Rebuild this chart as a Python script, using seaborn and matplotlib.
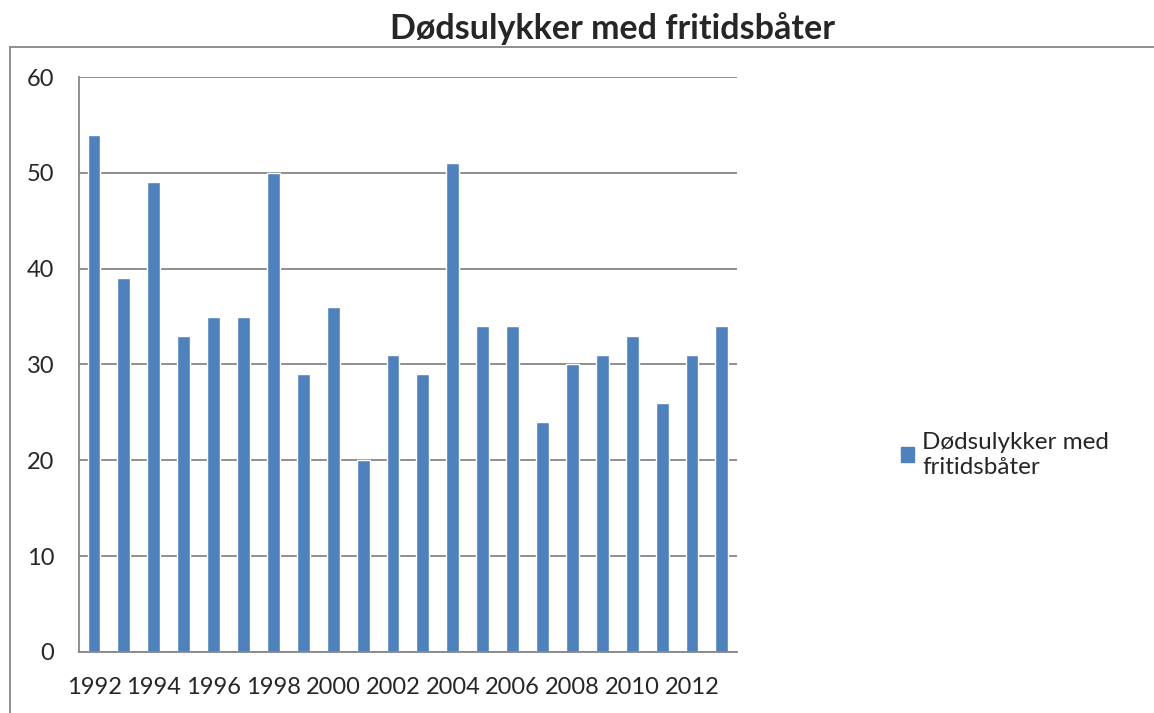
import matplotlib
matplotlib.use("Agg")
import matplotlib.pyplot as plt
from matplotlib.lines import Line2D
import seaborn as sns
import pandas as pd
import numpy as np

# Data
years = [1992, 1993, 1994, 1995, 1996, 1997, 1998, 1999, 2000, 2001, 2002,
         2003, 2004, 2005, 2006, 2007, 2008, 2009, 2010, 2011, 2012, 2013]
deaths = [54, 39, 49, 33, 35, 35, 50, 29, 36, 20, 31,
          29, 51, 34, 34, 24, 30, 31, 33, 26, 31, 34]
series_name = "Dødsulykker med fritidsbåter"

df = pd.DataFrame({"year": [str(y) for y in years], "value": deaths})

sns.set_style("white")
plt.rcParams['font.family'] = ['Lato', 'DejaVu Sans']

bar_color = "#4F81BD"
grid_color = "#868686"

fig = plt.figure(figsize=(11.54, 7.13), dpi=100)
ax = fig.add_axes([0.0685, 0.0856, 0.57, 0.8064])

sns.barplot(data=df, x="year", y="value", color=bar_color, width=0.43,
            saturation=1, ax=ax)

ax.set_xlim(-0.5, len(years) - 0.5)
ax.set_ylim(0, 60)
ax.set_yticks(range(0, 61, 10))
ax.yaxis.grid(True, color=grid_color, linewidth=1.3)
ax.set_axisbelow(True)

# tick labels every second year, tick marks at category boundaries
ax.set_xticks(range(0, len(years), 2))
ax.set_xticklabels([str(y) for y in years[::2]])
ax.set_xticks(np.arange(-0.5, len(years), 1), minor=True)
ax.tick_params(axis="x", which="major", length=0, pad=18, labelsize=17)
ax.tick_params(axis="x", which="minor", length=8, width=1.3, color=grid_color)
ax.tick_params(axis="y", length=8, width=1.3, color=grid_color, pad=10,
               labelsize=17)

for s in ["top", "right"]:
    ax.spines[s].set_visible(False)
for s in ["left", "bottom"]:
    ax.spines[s].set_color(grid_color)
    ax.spines[s].set_linewidth(1.3)

ax.set_xlabel("")
ax.set_ylabel("")

# legend on the right
handle = plt.Rectangle((0, 0), 1, 1, color=bar_color)
fig.legend([handle], ["Dødsulykker med\nfritidsbåter"], loc="center left",
           bbox_to_anchor=(0.772, 0.362), frameon=False, fontsize=17.5,
           handlelength=0.55, handleheight=0.55, handletextpad=0.35,
           borderaxespad=0)
for t in fig.legends[0].get_texts():
    t.set_linespacing(1.25)

# outer chart border (partially visible)
fig.add_artist(Line2D([0.0087, 0.0087], [0, 0.934], color=grid_color, lw=1.3))
fig.add_artist(Line2D([0.0087, 1], [0.934, 0.934], color=grid_color, lw=1.3))

fig.text(0.531, 0.96, series_name, ha="center", va="center",
         fontsize=24.5, fontweight="bold")

fig.savefig("out.png", dpi=100)
